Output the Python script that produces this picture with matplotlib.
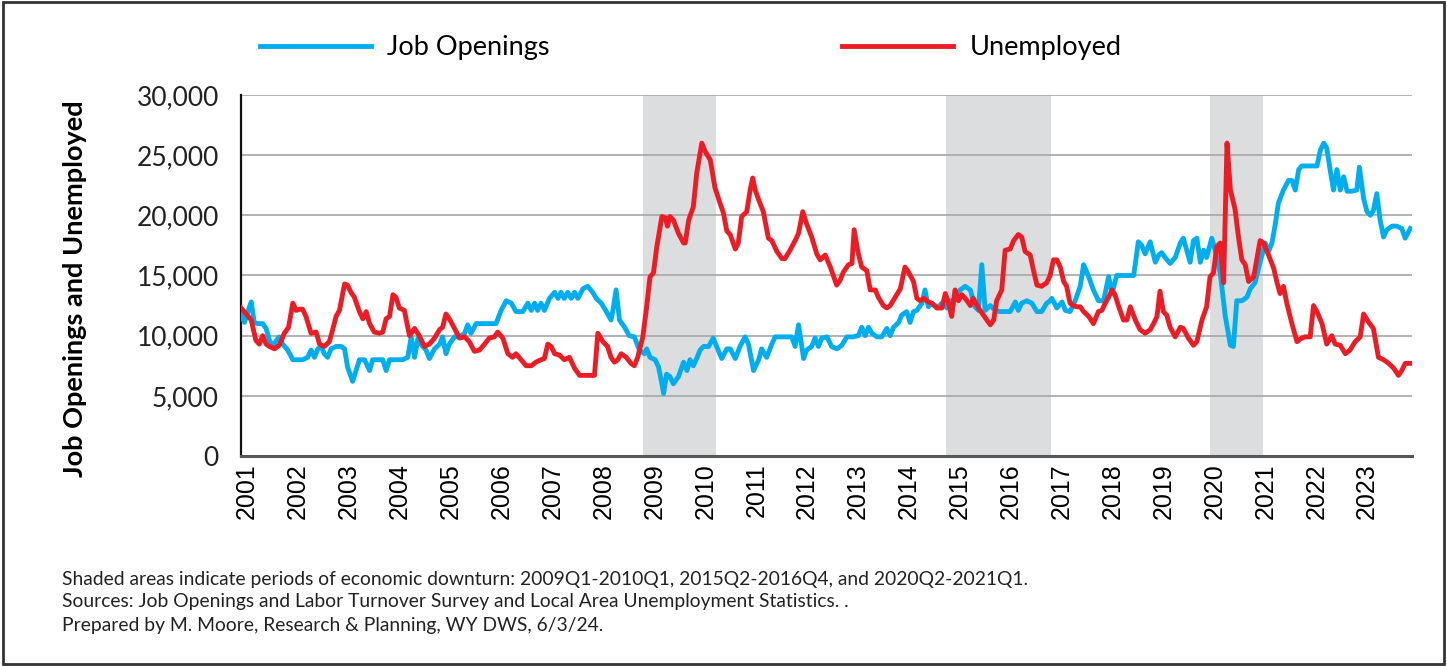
import numpy as np
import matplotlib
matplotlib.use("Agg")
import matplotlib.pyplot as plt
from matplotlib.ticker import FuncFormatter
from matplotlib.patches import Rectangle

# months since Jan 2001 and values
jobs_month = [0, 0.8, 1.6, 2.4, 3.1, 3.9, 5.1, 5.9, 6.7, 7.5, 8.3, 9.0, 9.8, 11.0, 12.2, 13.4, 14.5,
              15.7, 16.5, 17.3, 18.1, 18.9, 19.6, 20.4, 21.2, 22.4, 23.6, 24.4, 25.1, 26.3, 27.1, 27.9,
              29.1, 30.3, 31.0, 32.2, 33.4, 34.2, 35.0, 36.5, 38.1, 39.3, 40.1, 40.9, 41.7, 42.4, 43.6,
              44.4, 45.6, 46.8, 47.5, 48.3, 49.1, 50.3, 51.5, 52.7, 53.4, 54.2, 55.4, 57.0, 58.5, 60.1,
              61.3, 62.5, 63.7, 64.8, 66.4, 67.6, 68.4, 69.2, 69.9, 70.7, 71.5, 72.7, 73.9, 74.7, 75.4,
              76.2, 77.0, 77.8, 78.6, 79.4, 80.6, 81.7, 82.9, 83.7, 84.9, 86.1, 87.2, 87.6, 88.4, 89.2,
              90.4, 91.5, 92.7, 93.9, 95.1, 95.6, 96.4, 97.6, 98.4, 99.2, 99.6, 100.3, 101.1, 101.9,
              103.1, 104.3, 105.1, 105.8, 106.6, 107.4, 108.2, 109.0, 110.2, 111.3, 112.1, 113.3,
              114.5, 115.3, 116.5, 117.6, 118.8, 119.6, 120.8, 122.0, 122.7, 123.9, 125.1, 125.9,
              127.1, 128.6, 129.8, 130.6, 131.4, 132.6, 133.3, 134.5, 135.3, 136.1, 136.9, 138.1,
              139.2, 140.4, 141.6, 142.8, 144.3, 145.5, 146.3, 147.1, 147.9, 148.7, 149.9, 151.0,
              152.2, 153.0, 153.8, 155.0, 155.7, 156.9, 157.7, 158.5, 159.3, 160.5, 161.2, 162.0,
              162.8, 163.6, 164.4, 165.2, 166.4, 167.1, 168.3, 169.5, 170.7, 171.9, 173.0, 173.8,
              174.6, 175.4, 176.6, 177.8, 178.9, 180.1, 181.3, 182.5, 183.2, 184.0, 185.2, 186.4,
              187.6, 188.7, 189.9, 190.7, 191.1, 192.3, 193.5, 194.3, 195.4, 196.6, 197.8, 198.6,
              199.8, 200.9, 202.1, 203.3, 204.5, 205.3, 206.4, 208.0, 209.6, 210.4, 211.5, 212.3,
              213.1, 214.3, 215.5, 216.3, 217.0, 217.8, 219.0, 220.2, 221.4, 222.1, 222.9, 223.7,
              224.5, 225.3, 226.1, 226.9, 227.6, 228.8, 229.6, 230.8, 232.0, 233.2, 233.9, 234.7,
              235.9, 237.1, 237.9, 239.0, 240.2, 241.4, 242.2, 243.0, 243.8, 244.5, 245.7, 246.9,
              247.7, 248.5, 249.3, 250.0, 251.2, 252.4, 253.6, 254.4, 255.2, 255.9, 256.7, 257.5,
              258.3, 259.1, 259.9, 260.7, 261.8, 263.0, 263.6, 264.6, 265.4, 266.2, 266.9, 267.7,
              268.5, 269.3, 270.1, 271.3, 272.4, 273.6, 274.4, 275.6]
jobs = [11800, 11100, 12000, 12800, 11100, 11000, 11000, 10600, 9600, 9100, 9600, 9900, 9300, 8800,
        8000, 8000, 8000, 8200, 8800, 8200, 8900, 9100, 8500, 8200, 8900, 9100, 9100, 8900, 7400,
        6200, 7100, 8000, 8000, 7100, 8000, 8000, 8000, 7100, 8000, 8000, 8000, 8200, 9900, 8200,
        9800, 9300, 8800, 8100, 8900, 9300, 9900, 8500, 9300, 9900, 9900, 10200, 10900, 10200,
        11000, 11000, 11000, 11000, 12100, 12900, 12700, 12000, 12000, 12700, 12100, 12700, 12100,
        12700, 12100, 13100, 13600, 13100, 13600, 13100, 13600, 13100, 13600, 13100, 13900, 14100,
        13600, 13100, 12700, 12000, 11300, 12000, 13800, 11300, 10700, 10000, 9900, 8800, 8500,
        8900, 8200, 8000, 7400, 6000, 5200, 6800, 6600, 6000, 6600, 7800, 7100, 8000, 7500, 8100,
        8800, 9100, 9100, 9800, 9100, 8100, 8900, 8900, 8100, 9100, 9900, 9300, 7100, 8000, 8900,
        8200, 9300, 9900, 9900, 9900, 9900, 9100, 10900, 8100, 8800, 9100, 9800, 9100, 9800, 9900,
        9100, 8900, 9200, 9900, 9900, 10000, 10700, 10000, 10700, 10200, 9900, 9900, 10600, 10000,
        10700, 11100, 11700, 12000, 11100, 12000, 12100, 12700, 13800, 12400, 12700, 12500, 12400,
        12700, 12300, 12800, 13100, 13800, 14100, 13800, 12400, 12100, 15900, 12100, 12500, 12100,
        12000, 12000, 12000, 12800, 12100, 12700, 12900, 12700, 12000, 12000, 12700, 12900, 13100,
        12300, 12800, 12100, 12000, 12900, 14100, 15900, 14900, 13800, 12900, 12900, 14900, 13500,
        15000, 15000, 15000, 15000, 17800, 17500, 16800, 17800, 16100, 16700, 16900, 16500, 16000,
        16500, 17700, 18100, 17100, 16100, 17900, 18100, 16100, 17100, 16500, 18100, 17100, 15200,
        11600, 9200, 9100, 12900, 12900, 13200, 13900, 14400, 16100, 17700, 17000, 17700, 19300,
        21000, 22100, 22900, 22900, 22100, 23800, 24100, 24100, 24100, 24100, 25400, 26000, 25600,
        23800, 22100, 23800, 22100, 23200, 22000, 22000, 22100, 24000, 21400, 20300, 20000, 20400,
        21800, 19600, 18200, 18800, 19100, 19100, 18900, 18100, 18900]

unemp_month = [0, 1.2, 2.4, 3.5, 4.3, 5.1, 5.9, 6.7, 7.9, 9.0, 10.2, 11.2, 12.2, 13.0, 13.8, 14.5,
               15.3, 16.5, 17.7, 18.5, 19.6, 20.8, 21.6, 22.4, 23.2, 24.4, 25.1, 25.9, 26.7, 27.9,
               28.7, 29.5, 30.3, 31.4, 32.6, 33.4, 34.2, 35.0, 35.8, 36.5, 37.3, 38.5, 39.7, 40.9,
               42.0, 43.2, 44.4, 45.6, 46.8, 47.5, 48.3, 49.1, 50.3, 51.5, 52.7, 53.8, 55.0, 56.2,
               57.4, 58.5, 59.7, 60.5, 61.7, 62.9, 64.0, 64.8, 66.0, 67.2, 68.4, 69.5, 70.7, 71.5,
               72.3, 73.1, 73.9, 75.0, 76.2, 77.4, 78.6, 79.8, 80.9, 82.1, 83.3, 84.1, 85.3, 86.4,
               87.2, 88.0, 88.8, 89.6, 90.8, 91.9, 92.7, 93.5, 94.7, 95.6, 96.4, 97.2, 98.0, 99.2,
               100.0, 100.5, 101.1, 101.9, 103.1, 104.3, 104.7, 105.5, 106.6, 107.4, 108.6, 109.4,
               110.6, 111.7, 112.9, 113.7, 114.5, 115.3, 116.5, 117.2, 118.0, 119.2, 120.0, 120.6,
               121.2, 122.0, 123.1, 124.3, 125.1, 126.3, 127.5, 128.2, 129.4, 130.6, 131.4, 132.4,
               133.3, 134.5, 135.7, 136.5, 137.7, 138.9, 139.6, 140.4, 141.2, 142.0, 143.2, 144.0,
               144.5, 145.5, 146.3, 147.5, 148.3, 149.5, 150.2, 151.4, 152.2, 153.0, 154.2, 155.4,
               156.5, 157.3, 158.5, 159.3, 160.1, 160.9, 162.0, 162.8, 164.0, 165.2, 166.0, 166.7,
               167.5, 168.3, 169.1, 169.9, 170.7, 171.9, 172.6, 173.8, 175.0, 176.6, 177.4, 178.1,
               179.3, 180.1, 181.3, 182.1, 183.2, 184.0, 184.8, 186.0, 186.8, 187.6, 188.7, 189.9,
               190.7, 191.5, 192.3, 193.1, 193.9, 194.6, 195.4, 196.2, 197.0, 197.8, 198.6, 199.8,
               200.9, 202.1, 202.9, 203.7, 204.5, 205.3, 206.0, 206.8, 208.0, 208.8, 209.6, 210.8,
               211.9, 213.1, 214.3, 215.1, 215.9, 216.6, 217.4, 218.2, 219.0, 220.2, 221.4, 222.1,
               223.3, 224.5, 225.3, 226.5, 227.6, 228.4, 229.2, 230.0, 230.8, 231.6, 232.4, 233.2,
               234.3, 235.1, 235.9, 236.7, 237.5, 238.7, 239.4, 240.2, 241.0, 242.2, 243.4, 244.2,
               244.9, 245.7, 246.5, 247.7, 248.9, 250.0, 250.8, 252.0, 252.8, 253.6, 254.8, 255.9,
               257.1, 257.9, 259.1, 260.3, 261.4, 262.6, 263.8, 264.6, 265.8, 266.9, 268.1, 269.3,
               270.5, 271.7, 272.8, 273.6, 274.4, 275.6]
unemp = [12300, 11800, 11300, 9600, 9300, 10000, 9300, 9100, 8900, 9200, 10200, 10700, 12700, 12100,
         12200, 12200, 11600, 10200, 10300, 9300, 9100, 9500, 10500, 11600, 12100, 14300, 14200,
         13600, 13200, 12000, 11400, 12000, 11000, 10300, 10200, 10300, 11400, 11600, 13400, 13200,
         12300, 12100, 10000, 10600, 10000, 9100, 9300, 9800, 10500, 10700, 11800, 11400, 10600,
         9800, 9900, 9500, 8700, 8800, 9300, 9800, 9900, 10300, 9800, 8500, 8200, 8500, 8000, 7500,
         7500, 7800, 8000, 8100, 9300, 9100, 8500, 8400, 8000, 8200, 7300, 6700, 6700, 6700, 6700,
         10200, 9500, 9100, 8200, 7800, 8000, 8500, 8200, 7700, 7500, 8200, 9900, 12400, 14900,
         15200, 17400, 19900, 19800, 19100, 19900, 19600, 18500, 17700, 17700, 19600, 20700, 23500,
         26000, 25300, 24600, 22300, 21000, 20200, 18700, 18400, 17200, 17700, 19900, 20300, 22100,
         23100, 22100, 21300, 20300, 18100, 17900, 17000, 16400, 16400, 17100, 17900, 18500, 20300,
         19300, 18200, 16800, 16300, 16700, 15700, 15000, 14200, 14600, 15300, 15900, 16000, 18800,
         16800, 15700, 15400, 13800, 13800, 13200, 12500, 12300, 12500, 13200, 13900, 15700, 15300,
         14500, 13100, 12900, 13100, 12800, 12700, 12300, 12300, 13500, 12800, 11600, 13800, 12900,
         13400, 13100, 12500, 13100, 12300, 11700, 10900, 11300, 12900, 13800, 17100, 17200, 17900,
         18400, 18200, 17000, 16700, 15400, 14200, 14100, 14400, 15000, 16300, 16300, 15700, 14500,
         14100, 12700, 12500, 12400, 12400, 12000, 11600, 11000, 12000, 12100, 12700, 13200, 13800,
         13400, 12500, 11300, 11300, 12400, 11300, 10500, 10200, 10500, 11000, 11600, 13700, 12000,
         11700, 10700, 9900, 10700, 10600, 9800, 9200, 9500, 11300, 12400, 14900, 15200, 17400,
         17700, 14400, 26000, 22100, 20500, 18200, 16300, 15900, 14500, 14900, 16300, 17900, 17700,
         16700, 15600, 14400, 13500, 14100, 12700, 11000, 9500, 9800, 9900, 9900, 12500, 12000,
         11000, 9300, 10000, 9300, 9200, 8500, 8800, 9500, 9900, 11800, 11100, 10600, 8200, 8000,
         7700, 7300, 6700, 7100, 7700, 7700]

years = list(range(2001, 2024))
downturns = [(2008.90, 2010.33), (2014.85, 2016.91), (2020.04, 2021.08)]

notes = ["Shaded areas indicate periods of economic downturn: 2009Q1-2010Q1, 2015Q2-2016Q4, and 2020Q2-2021Q1.",
         "Sources: Job Openings and Labor Turnover Survey and Local Area Unemployment Statistics. .",
         "Prepared by M. Moore, Research & Planning, WY DWS, 6/3/24."]

blue = "#00AEEF"
red = "#ED1C24"
txt_font = "Lato"

fig = plt.figure(figsize=(14.47, 6.66), dpi=100)
ax = fig.add_axes([0.1666, 0.3153, 0.8092, 0.5421])

for start, end in downturns:
    ax.axvspan(start, end, color="#DCDDDF", lw=0, zorder=0)

jx = 2001 + np.array(jobs_month) / 12
ux = 2001 + np.array(unemp_month) / 12
ax.plot(jx, jobs, color=blue, lw=3.5, label="Job Openings", zorder=3)
ax.plot(ux, unemp, color=red, lw=3.5, label="Unemployed", zorder=4)

ax.set_xlim(2001, 2024)
ax.set_ylim(0, 30000)
ax.set_yticks(np.arange(0, 30001, 5000))
ax.yaxis.set_major_formatter(FuncFormatter(lambda v, p: f"{int(v):,}"))
ax.grid(axis="y", color="#A6A6A6", lw=1.2, zorder=1)
ax.set_axisbelow(True)

ax.set_xticks([y + 0.12 for y in years])
ax.set_xticklabels([str(y) for y in years], rotation=90, fontsize=18,
                   family="Liberation Sans")
ax.tick_params(axis="x", length=0, pad=5)
ax.tick_params(axis="y", length=0, pad=16, labelsize=19)
for lab in ax.get_yticklabels():
    lab.set_family(txt_font)
    lab.set_color("#222222")

for s in ["top", "right"]:
    ax.spines[s].set_visible(False)
ax.spines["left"].set_color("#111111")
ax.spines["left"].set_linewidth(1.6)
ax.spines["bottom"].set_color("#555555")
ax.spines["bottom"].set_linewidth(2.2)

fig.text(0.052, 0.566, "Job Openings and Unemployed", rotation=90, ha="center", va="center",
         fontsize=19.5, fontweight="bold", family=txt_font)

fig.legend(loc="center", bbox_to_anchor=(0.4775, 0.928), ncol=2, frameon=False,
           prop={"family": txt_font, "size": 19.5}, handlelength=4.1, handletextpad=0.6,
           columnspacing=10.8)

for i, line in enumerate(notes):
    fig.text(0.043, 1 - (579 + 23 * i) / 666, line, ha="left", va="center",
             fontsize=13.9, family=txt_font, color="#222222")

fig.patches.append(Rectangle((0.002, 0.003), 0.996, 0.994, transform=fig.transFigure,
                             fill=False, edgecolor="#333333", lw=2.0))

fig.savefig("out.png", dpi=100)
